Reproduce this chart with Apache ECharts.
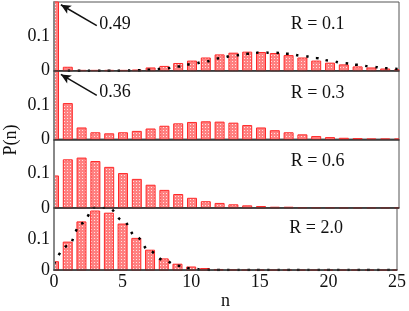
<!DOCTYPE html>
<html><head><meta charset="utf-8">
<script src="https://cdn.jsdelivr.net/npm/echarts@6/dist/echarts.min.js"></script>
<style>html,body{margin:0;padding:0;background:#fff}#c{width:409px;height:311px}</style>
</head><body><div id="c"></div>
<script>
const nValues = [0,1,2,3,4,5,6,7,8,9,10,11,12,13,14,15,16,17,18,19,20,21,22,23,24,25];
const xTicks = [0,5,10,15,20,25];
const yTicks = [0,0.1];
const panelLabels = ['R = 0.1','R = 0.3','R = 0.6','R = 2.0'];
const p01 = [0.49,0.01,0.001,0.001,0.001,0.001,0.002,0.008,0.0125,0.021,0.028,0.037,0.046,0.051,0.054,0.053,0.05,0.044,0.037,0.028,0.022,0.017,0.011,0.008,0.005,0.003];
const p03 = [0.36,0.104,0.033,0.019,0.016,0.019,0.023,0.03,0.038,0.045,0.049,0.051,0.05,0.047,0.04,0.033,0.025,0.019,0.013,0.008,0.005,0.003,0.002,0.001,0.001,0.001];
const p06 = [0.093,0.14,0.145,0.135,0.118,0.1,0.083,0.066,0.051,0.039,0.028,0.018,0.013,0.009,0.006,0.004,0.002,0.002,0.001,0.001,0.001,0,0,0,0,0];
const p20 = [0.027,0.09,0.155,0.19,0.183,0.148,0.102,0.064,0.036,0.019,0.01,0.005,0.002,0.001,0,0,0,0,0,0,0,0,0,0,0,0];
const t01 = [null,0,0,0,0,0,0.001,0.003,0.006,0.012,0.019,0.027,0.036,0.044,0.049,0.053,0.052,0.049,0.043,0.037,0.029,0.022,0.017,0.012,0.007,0.005];
const t20 = [0.02,0.078,0.15,0.202,0.2,0.16,0.107,0.06,0.032,0.014,0.005,0.001,0,0,0,0,0,0,0,0,0,0,0,0,0,0];
const peakLabels = ['0.49','0.36'];

const FONT = 'Liberation Serif';
// dotted texture for bars
const pc = document.createElement('canvas');
pc.width = 3; pc.height = 3;
const pctx = pc.getContext('2d');
pctx.fillStyle = '#ff8080'; pctx.fillRect(0,0,3,3);
pctx.fillStyle = 'rgba(255,235,235,0.9)'; pctx.fillRect(1,1,1,1);
const barFill = {image: pc, repeat: 'repeat'};

const chart = echarts.init(document.getElementById('c'));
const tops = [2, 70.6, 139.2, 207.9];
const H = 68.7;
const bars = [p01,p03,p06,p20];
const theory = [t01,null,null,t20];

function renderBar(params, api){
  const x = api.value(0), y = api.value(1);
  const p0 = api.coord([x,0]), p1 = api.coord([x,y]);
  const w = 9;
  const cs = params.coordSys;
  const rect = {x:p0[0]-w/2, y:Math.min(p0[1],p1[1]), width:w, height:Math.abs(p0[1]-p1[1])};
  const c = echarts.graphic.clipRectByRect(rect,{x:cs.x,y:cs.y,width:cs.width,height:cs.height});
  if(!c) return null;
  return {type:'rect',shape:c,style:{fill:barFill,stroke:'#ff2a2a',lineWidth:1}};
}

const grids = [], xAxes = [], yAxes = [], series = [];
tops.forEach((t,i)=>{
  grids.push({left:54,right:10,top:t,height:H,show:true,borderColor:'#555',borderWidth:1});
  xAxes.push({type:'value',gridIndex:i,min:0,max:25,interval:5,z:5,
    axisLine:{show:true,onZero:false,lineStyle:{color:'#333',width:1.5}},
    axisTick:{show:false},splitLine:{show:false},
    axisLabel:{show:i===3,margin:3,fontFamily:FONT,fontSize:18,color:'#111',
      formatter:v=>xTicks.includes(v)?String(v):''},
    name:i===3?'n':'',nameLocation:'middle',nameGap:15,
    nameTextStyle:{fontFamily:FONT,fontSize:18,color:'#111'}});
  yAxes.push({type:'value',gridIndex:i,min:0,max:0.2,interval:0.1,z:5,
    axisLine:{show:true,lineStyle:{color:'#888',width:2}},
    axisTick:{show:false},splitLine:{show:false},
    axisLabel:{margin:4,fontFamily:FONT,fontSize:18,color:'#111',
      formatter:v=>{const m=yTicks.find(y=>Math.abs(y-v)<1e-9);return m===undefined?'':(m===0?'0':String(m));}}});
  series.push({type:'custom',xAxisIndex:i,yAxisIndex:i,renderItem:renderBar,silent:true,
    data:nValues.map((n,k)=>[n,bars[i][k]]),
    encode:{x:0,y:1},
    markPoint:{symbol:'circle',symbolSize:0,silent:true,
      label:{show:true,position:'inside',fontFamily:FONT,fontSize:18,color:'#111',formatter:panelLabels[i]},
      data:[{coord:[19.1,0.135]}]}});
  if(i<2){
    series.push({type:'scatter',xAxisIndex:i,yAxisIndex:i,data:[],
      markLine:{silent:true,symbol:['none','arrow'],symbolSize:[7,10],
        lineStyle:{color:'#111',width:1.5,type:'solid'},label:{show:false},
        data:[[{coord:[3.1,i===0?0.131:0.128]},{coord:[0.5,i===0?0.192:0.189]}]]},
      markPoint:{symbol:'circle',symbolSize:0,silent:true,
        label:{show:true,position:'right',distance:1,fontFamily:FONT,fontSize:18,color:'#111',formatter:peakLabels[i]},
        data:[{coord:[3.2,i===0?0.134:0.137]}]}});
  }
  if(theory[i]){
    series.push({type:'line',xAxisIndex:i,yAxisIndex:i,clip:true,smooth:0.4,smoothMonotone:'x',
      showSymbol:false,connectNulls:false,silent:true,
      data:nValues.map((n,k)=>[n,theory[i][k]]),
      lineStyle:{color:'#000',width:2.5,type:[2.5,7.5]}});
  }
});

chart.setOption({
  animation:false,
  grid:grids,xAxis:xAxes,yAxis:yAxes,series:series,
  graphic:[{type:'text',x:11,y:140,rotation:Math.PI/2,
    style:{text:'P(n)',fontFamily:FONT,fontSize:18,fill:'#111',align:'center',verticalAlign:'middle'}}]
});
</script></body></html>
